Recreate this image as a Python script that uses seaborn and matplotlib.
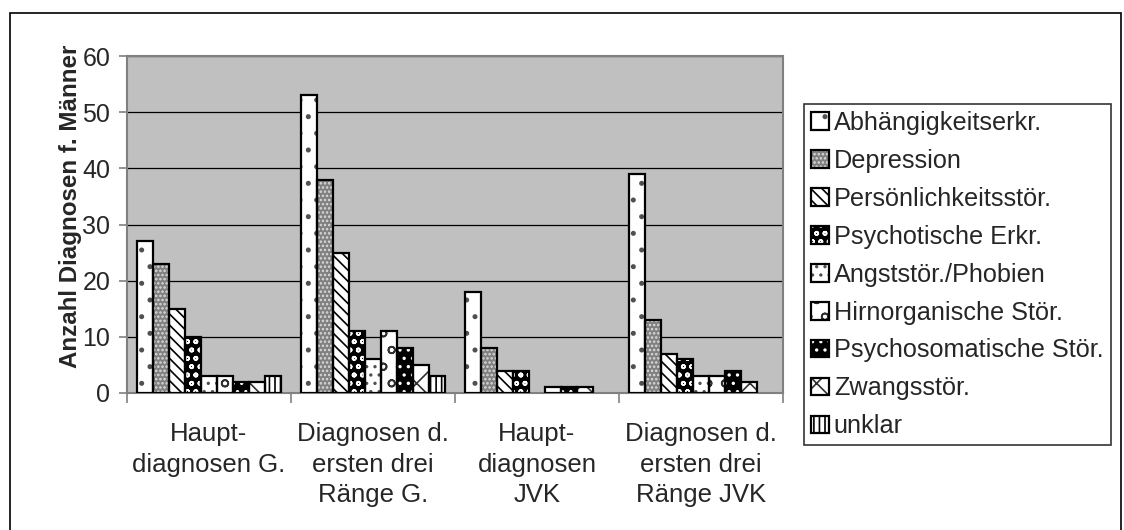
import numpy as np
import pandas as pd
import matplotlib
matplotlib.use("Agg")
import matplotlib.pyplot as plt
import seaborn as sns
from matplotlib.patches import Patch, Rectangle
from matplotlib.legend_handler import HandlerTuple

groups = ["Haupt-\ndiagnosen G.", "Diagnosen d.\nersten drei\nRänge G.",
          "Haupt-\ndiagnosen\nJVK", "Diagnosen d.\nersten drei\nRänge JVK"]
diagnoses = ["Abhängigkeitserkr.", "Depression", "Persönlichkeitsstör.",
             "Psychotische Erkr.", "Angststör./Phobien", "Hirnorganische Stör.",
             "Psychosomatische Stör.", "Zwangsstör.", "unklar"]
abhaengigkeit = [27, 53, 18, 39]
depression = [23, 38, 8, 13]
persoenlichkeit = [15, 25, 4, 7]
psychotisch = [10, 11, 4, 6]
angst = [3, 6, 0, 3]
hirnorganisch = [3, 11, 1, 3]
psychosomatisch = [2, 8, 1, 4]
zwang = [2, 5, 1, 2]
unklar = [3, 3, 0, 0]
series = [abhaengigkeit, depression, persoenlichkeit, psychotisch, angst,
          hirnorganisch, psychosomatisch, zwang, unklar]
y_ticks = [0, 10, 20, 30, 40, 50, 60]

# (face, hatch, hatch colour)
styles = [
    ("white", ".", "#505050"),
    ("#808080", "....", "#dcdcdc"),
    ("white", "\\\\\\", "black"),
    ("black", "oo", "white"),
    ("white", "..", "#505050"),
    ("white", "o", "#303030"),
    ("black", "..", "white"),
    ("white", "x", "#303030"),
    ("white", "|||", "black"),
]

rows = []
for d, vals in zip(diagnoses, series):
    for g, v in zip(groups, vals):
        rows.append({"Gruppe": g, "Diagnose": d, "Anzahl": v})
df = pd.DataFrame(rows)

sns.set_style("white")
plt.rcParams["font.family"] = ["Liberation Sans", "DejaVu Sans"]
plt.rcParams["hatch.linewidth"] = 1.2

fig = plt.figure(figsize=(11.24, 5.30), dpi=100)
ax = fig.add_axes([127/1124, 1-393/530, 656/1124, 337/530])
ax.set_facecolor("#c0c0c0")

sns.barplot(data=df, x="Gruppe", y="Anzahl", hue="Diagnose", order=groups,
            hue_order=diagnoses, width=0.878, dodge=True, legend=False,
            palette=["white"]*9, ax=ax, zorder=3)

for cont, (fc, hatch, hc) in zip(ax.containers, styles):
    for p in cont:
        p.set_facecolor(fc)
        p.set_hatch(hatch)
        p.set_edgecolor(hc)
        p.set_linewidth(0)
        if p.get_height() > 0:
            ax.add_patch(Rectangle(p.get_xy(), p.get_width(), p.get_height(),
                                   fill=False, edgecolor="black", lw=1.6, zorder=4))

ax.set_xlim(-0.5, 3.5)
ax.set_ylim(0, 60)
ax.set_yticks(y_ticks)
ax.set_yticklabels([str(t) for t in y_ticks], fontsize=18)
ax.yaxis.grid(True, color="black", lw=0.9, zorder=1)
ax.set_axisbelow(True)
for s in ax.spines.values():
    s.set_color("#808080")
    s.set_linewidth(1.5)
    s.set_visible(True)

ax.set_xticks(np.arange(-0.5, 4.0, 1.0))
ax.set_xticklabels([])
ax.set_xticks(np.arange(4), minor=True)
ax.set_xticklabels(groups, minor=True, fontsize=18.5, linespacing=1.35)
ax.tick_params(axis="x", which="major", length=7, width=1.2, color="#808080", direction="out", bottom=True)
ax.tick_params(axis="x", which="minor", length=0, pad=21)
ax.tick_params(axis="y", length=6, width=1.2, color="#808080", direction="out", left=True, pad=6)
ax.set_xlabel("")
ax.set_ylabel("Anzahl Diagnosen f. Männer", fontsize=17.4, fontweight="bold")
ax.yaxis.set_label_coords(-0.069, 0.555)

handles = []
for fc, hatch, hc in styles:
    handles.append((Patch(facecolor=fc, hatch=hatch, edgecolor=hc, lw=0),
                    Patch(fill=False, edgecolor="black", lw=1.6)))
leg = fig.legend(handles, diagnoses, loc="upper left",
                 bbox_to_anchor=(804/1124, 1-104/530), fontsize=18.2,
                 handler_map={tuple: HandlerTuple(ndivide=1)},
                 handlelength=0.7, handleheight=0.7, handletextpad=0.2,
                 labelspacing=0.55, borderpad=0.28, borderaxespad=0,
                 frameon=True, fancybox=False)
leg.get_frame().set_edgecolor("black")
leg.get_frame().set_linewidth(1.2)

fig.patches.append(Rectangle((10/1124, -0.05), 1111/1124, 1.05 - 13/530,
                             transform=fig.transFigure, fill=False,
                             edgecolor="black", lw=1.2))

fig.savefig("out.png", dpi=100)
